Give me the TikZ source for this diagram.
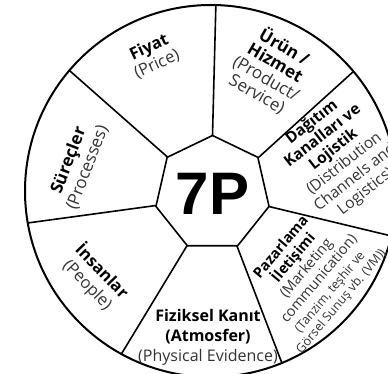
\documentclass[tikz,border=0pt]{standalone}
\usepackage{fontspec}
\setmainfont{Open Sans}
\newfontfamily\headfont{Liberation Sans}
\usetikzlibrary{shapes.geometric}

\newcommand{\engl}[1]{{\color{black!80}#1}}

\tikzset{
  rim/.style={line width=2pt},
  spoke/.style={line width=1.6pt},
  sectortext/.style={align=center, inner sep=0pt, font=\fontsize{16}{18.5}\selectfont},
}

\begin{document}
\begin{tikzpicture}[x=1pt,y=1pt]
\useasboundingbox (-211,-183) rectangle (177,191);
\clip (-211,-183) rectangle (177,191);

\node[regular polygon, regular polygon sides=7, minimum size=116pt, inner sep=0pt, outer sep=0pt,
      draw, spoke, font=\headfont\bfseries\fontsize{60}{60}\selectfont] (hept) at (1.5,-2.5) {7P};
\foreach \a/\b in {90/88.5, 38.571/40, 347.143/346, 295.714/292.4, 244.286/241.2, 192.857/189.9, 141.429/139.6}
  \draw[spoke] (hept.\a) -- (\b:186);
\draw[rim] (0,0) circle (186);

\node[sectortext, rotate=25, font=\fontsize{16.5}{18.5}\selectfont] (fiyat) at (-58,135) {\textbf{Fiyat}\\\engl{(Price)}};
\node[sectortext, rotate=-30, font=\fontsize{17}{18}\selectfont] (urun) at (60,121)
  {\textbf{Ürün /}\\\textbf{Hizmet}\\\engl{(Product/}\\\engl{Service)}};
\node[sectortext, rotate=38, font=\fontsize{15.5}{17.5}\selectfont] (dagitim) at (128,34)
  {\textbf{Dağıtım}\\\textbf{Kanalları ve}\\\textbf{Lojistik}\\\engl{(Distribution}\\\engl{Channels and}\\\engl{Logistics)}};
\node[sectortext, rotate=50, font=\fontsize{14.5}{16.5}\selectfont] (pazarlama) at (89,-72)
  {\textbf{Pazarlama}\\\textbf{İletişimi}\\\engl{(Marketing}\\\engl{communication)}};
\node[sectortext, rotate=50, font=\fontsize{12.5}{14.5}\selectfont] (vm) at (125,-106)
  {\engl{(Tanzim, teşhir ve}\\\engl{Görsel Sunuş vb. (VM))}};
\node[sectortext, font=\fontsize{16}{20}\selectfont] (kanit) at (-3,-146)
  {\textbf{Fiziksel Kanıt}\\\textbf{(Atmosfer)}\\\engl{(Physical Evidence)}};
\node[sectortext, rotate=-46, font=\fontsize{16.5}{19.5}\selectfont] (insanlar) at (-116,-87)
  {\textbf{İnsanlar}\\\engl{(People)}};
\node[sectortext, rotate=69, font=\fontsize{17}{20}\selectfont] (surecler) at (-133,27)
  {\textbf{Süreçler}\\\engl{(Processes)}};
\end{tikzpicture}
\end{document}
